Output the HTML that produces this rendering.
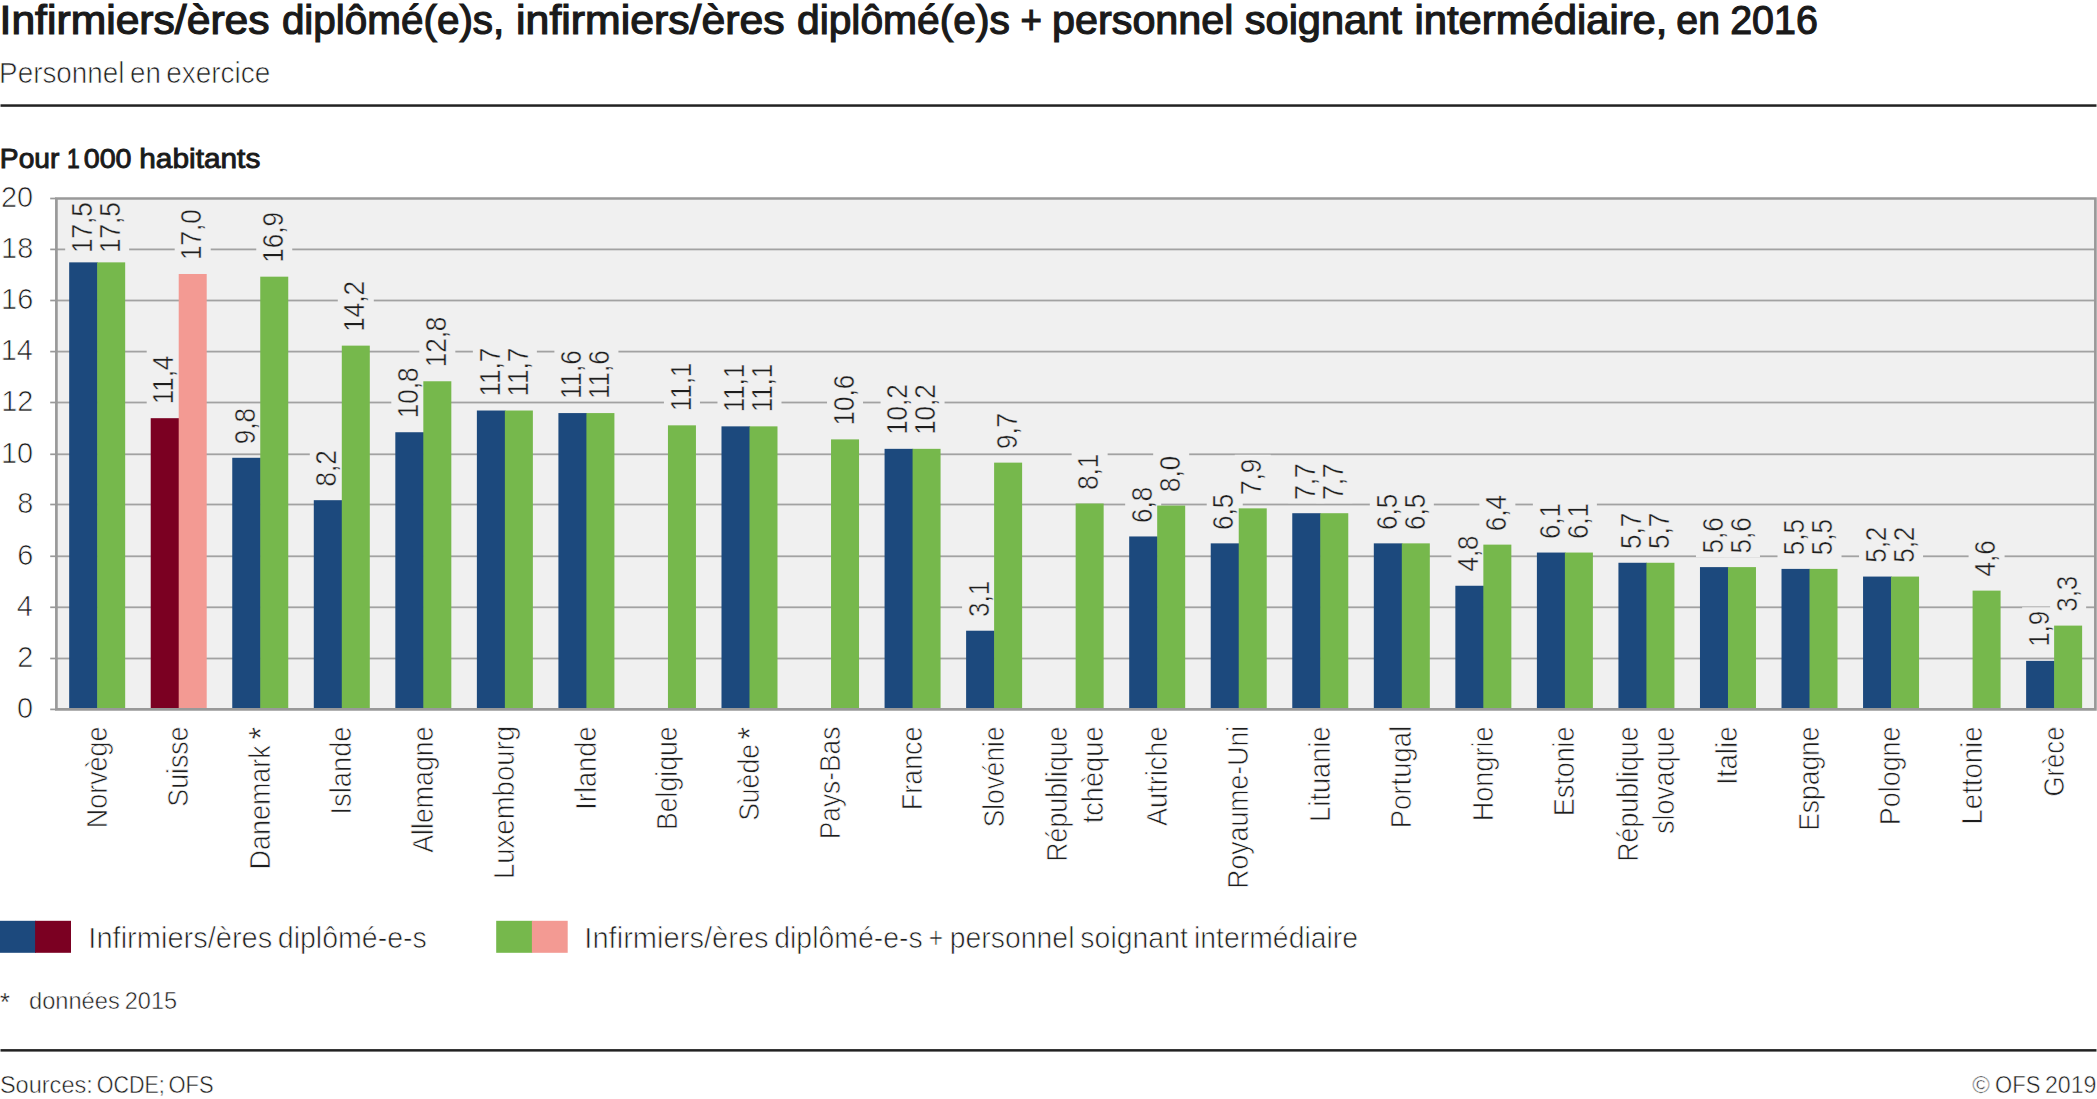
<!DOCTYPE html>
<html lang="fr">
<head>
<meta charset="utf-8">
<title>Infirmiers/ères diplômé(e)s, en 2016</title>
<style>
html,body{margin:0;padding:0;background:#fff;}
body{width:2097px;height:1099px;overflow:hidden;}
svg{display:block;font-family:'Liberation Sans', sans-serif;}
text{white-space:pre;}
</style>
</head>
<body>
<svg width="2097" height="1099" viewBox="0 0 2097 1099">
<rect width="2097" height="1099" fill="#ffffff"/>
<text x="-0.44" y="33.70" font-size="39.9" fill="#1a1a1a" textLength="270.08" lengthAdjust="spacingAndGlyphs" stroke="#1a1a1a" stroke-width="1.2">Infirmiers/ères</text>
<text x="281.90" y="33.70" font-size="39.9" fill="#1a1a1a" textLength="222.43" lengthAdjust="spacingAndGlyphs" stroke="#1a1a1a" stroke-width="1.2">diplômé(e)s,</text>
<text x="516.14" y="33.70" font-size="39.9" fill="#1a1a1a" textLength="268.51" lengthAdjust="spacingAndGlyphs" stroke="#1a1a1a" stroke-width="1.2">infirmiers/ères</text>
<text x="796.99" y="33.70" font-size="39.9" fill="#1a1a1a" textLength="212.88" lengthAdjust="spacingAndGlyphs" stroke="#1a1a1a" stroke-width="1.2">diplômé(e)s</text>
<text x="1020.51" y="33.70" font-size="39.9" fill="#1a1a1a" textLength="21.40" lengthAdjust="spacingAndGlyphs" stroke="#1a1a1a" stroke-width="1.2">+</text>
<text x="1052.04" y="33.70" font-size="39.9" fill="#1a1a1a" textLength="181.43" lengthAdjust="spacingAndGlyphs" stroke="#1a1a1a" stroke-width="1.2">personnel</text>
<text x="1244.74" y="33.70" font-size="39.9" fill="#1a1a1a" textLength="157.16" lengthAdjust="spacingAndGlyphs" stroke="#1a1a1a" stroke-width="1.2">soignant</text>
<text x="1414.41" y="33.70" font-size="39.9" fill="#1a1a1a" textLength="253.05" lengthAdjust="spacingAndGlyphs" stroke="#1a1a1a" stroke-width="1.2">intermédiaire,</text>
<text x="1676.33" y="33.70" font-size="39.9" fill="#1a1a1a" textLength="43.61" lengthAdjust="spacingAndGlyphs" stroke="#1a1a1a" stroke-width="1.2">en</text>
<text x="1730.22" y="33.70" font-size="39.9" fill="#1a1a1a" textLength="87.61" lengthAdjust="spacingAndGlyphs" stroke="#1a1a1a" stroke-width="1.2">2016</text>
<text x="-0.94" y="82.50" font-size="29.2" fill="#1e1e1e" textLength="125.45" lengthAdjust="spacingAndGlyphs" stroke="#ffffff" stroke-width="0.7">Personnel</text>
<text x="130.07" y="82.50" font-size="29.2" fill="#1e1e1e" textLength="30.88" lengthAdjust="spacingAndGlyphs" stroke="#ffffff" stroke-width="0.7">en</text>
<text x="166.16" y="82.50" font-size="29.2" fill="#1e1e1e" textLength="104.13" lengthAdjust="spacingAndGlyphs" stroke="#ffffff" stroke-width="0.7">exercice</text>
<rect x="0.5" y="104.3" width="2096" height="2.5" fill="#222"/>
<text x="-0.16" y="167.90" font-size="27.3" fill="#1a1a1a" textLength="59.58" lengthAdjust="spacingAndGlyphs" stroke="#1a1a1a" stroke-width="0.9">Pour</text>
<text x="83.73" y="167.90" font-size="27.3" fill="#1a1a1a" textLength="47.84" lengthAdjust="spacingAndGlyphs" stroke="#1a1a1a" stroke-width="0.9">000</text>
<text x="139.28" y="167.90" font-size="27.3" fill="#1a1a1a" textLength="121.05" lengthAdjust="spacingAndGlyphs" stroke="#1a1a1a" stroke-width="0.9">habitants</text>
<text x="66.90" y="167.90" font-size="27.3" fill="#1a1a1a" textLength="12.75" lengthAdjust="spacingAndGlyphs" stroke="#1a1a1a" stroke-width="0.9">1</text>
<rect x="56.40" y="198.50" width="2039.00" height="510.90" fill="#f0f0f0"/>
<rect x="56.40" y="657.60" width="2039.00" height="1.8" fill="#a2a2a2"/>
<rect x="56.40" y="606.40" width="2039.00" height="1.8" fill="#a2a2a2"/>
<rect x="56.40" y="555.40" width="2039.00" height="1.8" fill="#a2a2a2"/>
<rect x="56.40" y="503.60" width="2039.00" height="1.8" fill="#a2a2a2"/>
<rect x="56.40" y="453.40" width="2039.00" height="1.8" fill="#a2a2a2"/>
<rect x="56.40" y="401.60" width="2039.00" height="1.8" fill="#a2a2a2"/>
<rect x="56.40" y="350.70" width="2039.00" height="1.8" fill="#a2a2a2"/>
<rect x="56.40" y="299.60" width="2039.00" height="1.8" fill="#a2a2a2"/>
<rect x="56.40" y="248.50" width="2039.00" height="1.8" fill="#a2a2a2"/>
<rect x="65.17" y="198.00" width="36.00" height="56.50" fill="#f0f0f0"/>
<rect x="93.17" y="198.00" width="36.00" height="56.50" fill="#f0f0f0"/>
<rect x="146.71" y="349.19" width="36.00" height="56.50" fill="#f0f0f0"/>
<rect x="174.71" y="204.99" width="36.00" height="56.50" fill="#f0f0f0"/>
<rect x="228.25" y="404.18" width="36.00" height="43.60" fill="#f0f0f0"/>
<rect x="256.25" y="207.67" width="36.00" height="56.50" fill="#f0f0f0"/>
<rect x="309.79" y="446.59" width="36.00" height="43.60" fill="#f0f0f0"/>
<rect x="337.79" y="276.64" width="36.00" height="56.50" fill="#f0f0f0"/>
<rect x="391.33" y="363.24" width="36.00" height="56.50" fill="#f0f0f0"/>
<rect x="419.33" y="312.27" width="36.00" height="56.50" fill="#f0f0f0"/>
<rect x="472.87" y="341.52" width="36.00" height="56.50" fill="#f0f0f0"/>
<rect x="500.87" y="341.52" width="36.00" height="56.50" fill="#f0f0f0"/>
<rect x="554.41" y="344.08" width="36.00" height="56.50" fill="#f0f0f0"/>
<rect x="582.41" y="344.08" width="36.00" height="56.50" fill="#f0f0f0"/>
<rect x="663.95" y="356.34" width="36.00" height="56.50" fill="#f0f0f0"/>
<rect x="717.49" y="357.36" width="36.00" height="56.50" fill="#f0f0f0"/>
<rect x="745.49" y="357.36" width="36.00" height="56.50" fill="#f0f0f0"/>
<rect x="827.03" y="370.39" width="36.00" height="56.50" fill="#f0f0f0"/>
<rect x="880.57" y="379.84" width="36.00" height="56.50" fill="#f0f0f0"/>
<rect x="908.57" y="379.84" width="36.00" height="56.50" fill="#f0f0f0"/>
<rect x="962.11" y="577.12" width="36.00" height="43.60" fill="#f0f0f0"/>
<rect x="990.11" y="409.04" width="36.00" height="43.60" fill="#f0f0f0"/>
<rect x="1071.65" y="449.91" width="36.00" height="43.60" fill="#f0f0f0"/>
<rect x="1125.19" y="482.86" width="36.00" height="43.60" fill="#f0f0f0"/>
<rect x="1153.19" y="451.95" width="36.00" height="43.60" fill="#f0f0f0"/>
<rect x="1206.73" y="489.76" width="36.00" height="43.60" fill="#f0f0f0"/>
<rect x="1234.73" y="454.76" width="36.00" height="43.60" fill="#f0f0f0"/>
<rect x="1288.27" y="459.61" width="36.00" height="43.60" fill="#f0f0f0"/>
<rect x="1316.27" y="459.61" width="36.00" height="43.60" fill="#f0f0f0"/>
<rect x="1369.81" y="489.76" width="36.00" height="43.60" fill="#f0f0f0"/>
<rect x="1397.81" y="489.76" width="36.00" height="43.60" fill="#f0f0f0"/>
<rect x="1451.35" y="532.16" width="36.00" height="43.60" fill="#f0f0f0"/>
<rect x="1479.35" y="491.03" width="36.00" height="43.60" fill="#f0f0f0"/>
<rect x="1532.89" y="498.95" width="36.00" height="43.60" fill="#f0f0f0"/>
<rect x="1560.89" y="498.95" width="36.00" height="43.60" fill="#f0f0f0"/>
<rect x="1614.43" y="509.17" width="36.00" height="43.60" fill="#f0f0f0"/>
<rect x="1642.43" y="509.17" width="36.00" height="43.60" fill="#f0f0f0"/>
<rect x="1695.97" y="513.51" width="36.00" height="43.60" fill="#f0f0f0"/>
<rect x="1723.97" y="513.51" width="36.00" height="43.60" fill="#f0f0f0"/>
<rect x="1777.51" y="515.30" width="36.00" height="43.60" fill="#f0f0f0"/>
<rect x="1805.51" y="515.30" width="36.00" height="43.60" fill="#f0f0f0"/>
<rect x="1859.05" y="522.97" width="36.00" height="43.60" fill="#f0f0f0"/>
<rect x="1887.05" y="522.97" width="36.00" height="43.60" fill="#f0f0f0"/>
<rect x="1968.59" y="537.02" width="36.00" height="43.60" fill="#f0f0f0"/>
<rect x="2022.13" y="607.26" width="36.00" height="43.60" fill="#f0f0f0"/>
<rect x="2050.13" y="572.01" width="36.00" height="43.60" fill="#f0f0f0"/>
<rect x="69.17" y="262.36" width="28.60" height="447.04" fill="#1c497d"/>
<rect x="97.17" y="262.36" width="28.00" height="447.04" fill="#76b84c"/>
<rect x="150.71" y="418.19" width="28.60" height="291.21" fill="#7b0022"/>
<rect x="178.71" y="273.99" width="28.00" height="435.41" fill="#f39a93"/>
<rect x="232.25" y="457.78" width="28.60" height="251.62" fill="#1c497d"/>
<rect x="260.25" y="276.67" width="28.00" height="432.73" fill="#76b84c"/>
<rect x="313.79" y="500.19" width="28.60" height="209.21" fill="#1c497d"/>
<rect x="341.79" y="345.64" width="28.00" height="363.76" fill="#76b84c"/>
<rect x="395.33" y="432.24" width="28.60" height="277.16" fill="#1c497d"/>
<rect x="423.33" y="381.27" width="28.00" height="328.13" fill="#76b84c"/>
<rect x="476.87" y="410.52" width="28.60" height="298.88" fill="#1c497d"/>
<rect x="504.87" y="410.52" width="28.00" height="298.88" fill="#76b84c"/>
<rect x="558.41" y="413.08" width="28.60" height="296.32" fill="#1c497d"/>
<rect x="586.41" y="413.08" width="28.00" height="296.32" fill="#76b84c"/>
<rect x="667.95" y="425.34" width="28.00" height="284.06" fill="#76b84c"/>
<rect x="721.49" y="426.36" width="28.60" height="283.04" fill="#1c497d"/>
<rect x="749.49" y="426.36" width="28.00" height="283.04" fill="#76b84c"/>
<rect x="831.03" y="439.39" width="28.00" height="270.01" fill="#76b84c"/>
<rect x="884.57" y="448.84" width="28.60" height="260.56" fill="#1c497d"/>
<rect x="912.57" y="448.84" width="28.00" height="260.56" fill="#76b84c"/>
<rect x="966.11" y="630.72" width="28.60" height="78.68" fill="#1c497d"/>
<rect x="994.11" y="462.64" width="28.00" height="246.76" fill="#76b84c"/>
<rect x="1075.65" y="503.51" width="28.00" height="205.89" fill="#76b84c"/>
<rect x="1129.19" y="536.46" width="28.60" height="172.94" fill="#1c497d"/>
<rect x="1157.19" y="505.55" width="28.00" height="203.85" fill="#76b84c"/>
<rect x="1210.73" y="543.36" width="28.60" height="166.04" fill="#1c497d"/>
<rect x="1238.73" y="508.36" width="28.00" height="201.04" fill="#76b84c"/>
<rect x="1292.27" y="513.21" width="28.60" height="196.19" fill="#1c497d"/>
<rect x="1320.27" y="513.21" width="28.00" height="196.19" fill="#76b84c"/>
<rect x="1373.81" y="543.36" width="28.60" height="166.04" fill="#1c497d"/>
<rect x="1401.81" y="543.36" width="28.00" height="166.04" fill="#76b84c"/>
<rect x="1455.35" y="585.76" width="28.60" height="123.64" fill="#1c497d"/>
<rect x="1483.35" y="544.63" width="28.00" height="164.77" fill="#76b84c"/>
<rect x="1536.89" y="552.55" width="28.60" height="156.85" fill="#1c497d"/>
<rect x="1564.89" y="552.55" width="28.00" height="156.85" fill="#76b84c"/>
<rect x="1618.43" y="562.77" width="28.60" height="146.63" fill="#1c497d"/>
<rect x="1646.43" y="562.77" width="28.00" height="146.63" fill="#76b84c"/>
<rect x="1699.97" y="567.11" width="28.60" height="142.29" fill="#1c497d"/>
<rect x="1727.97" y="567.11" width="28.00" height="142.29" fill="#76b84c"/>
<rect x="1781.51" y="568.90" width="28.60" height="140.50" fill="#1c497d"/>
<rect x="1809.51" y="568.90" width="28.00" height="140.50" fill="#76b84c"/>
<rect x="1863.05" y="576.57" width="28.60" height="132.83" fill="#1c497d"/>
<rect x="1891.05" y="576.57" width="28.00" height="132.83" fill="#76b84c"/>
<rect x="1972.59" y="590.62" width="28.00" height="118.78" fill="#76b84c"/>
<rect x="2026.13" y="660.86" width="28.60" height="48.54" fill="#1c497d"/>
<rect x="2054.13" y="625.61" width="28.00" height="83.79" fill="#76b84c"/>
<path d="M56.40 709.40V198.50H2095.40V709.40Z" fill="none" stroke="#999999" stroke-width="2.7" stroke-linejoin="miter"/>
<rect x="50.2" y="708.55" width="6.20" height="1.7" fill="#999999"/>
<text x="17.01" y="718.10" font-size="29.2" fill="#1e1e1e" textLength="16.07" lengthAdjust="spacingAndGlyphs" stroke="#ffffff" stroke-width="0.7">0</text>
<rect x="50.2" y="657.65" width="6.20" height="1.7" fill="#999999"/>
<text x="17.33" y="667.20" font-size="29.2" fill="#1e1e1e" textLength="16.07" lengthAdjust="spacingAndGlyphs" stroke="#ffffff" stroke-width="0.7">2</text>
<rect x="50.2" y="606.45" width="6.20" height="1.7" fill="#999999"/>
<text x="16.73" y="616.00" font-size="29.2" fill="#1e1e1e" textLength="16.07" lengthAdjust="spacingAndGlyphs" stroke="#ffffff" stroke-width="0.7">4</text>
<rect x="50.2" y="555.45" width="6.20" height="1.7" fill="#999999"/>
<text x="17.15" y="565.00" font-size="29.2" fill="#1e1e1e" textLength="16.07" lengthAdjust="spacingAndGlyphs" stroke="#ffffff" stroke-width="0.7">6</text>
<rect x="50.2" y="503.65" width="6.20" height="1.7" fill="#999999"/>
<text x="17.14" y="513.20" font-size="29.2" fill="#1e1e1e" textLength="16.07" lengthAdjust="spacingAndGlyphs" stroke="#ffffff" stroke-width="0.7">8</text>
<rect x="50.2" y="453.45" width="6.20" height="1.7" fill="#999999"/>
<text x="0.94" y="463.00" font-size="29.2" fill="#1e1e1e" textLength="32.14" lengthAdjust="spacingAndGlyphs" stroke="#ffffff" stroke-width="0.7">10</text>
<rect x="50.2" y="401.65" width="6.20" height="1.7" fill="#999999"/>
<text x="1.26" y="411.20" font-size="29.2" fill="#1e1e1e" textLength="32.14" lengthAdjust="spacingAndGlyphs" stroke="#ffffff" stroke-width="0.7">12</text>
<rect x="50.2" y="350.75" width="6.20" height="1.7" fill="#999999"/>
<text x="0.66" y="360.30" font-size="29.2" fill="#1e1e1e" textLength="32.14" lengthAdjust="spacingAndGlyphs" stroke="#ffffff" stroke-width="0.7">14</text>
<rect x="50.2" y="299.65" width="6.20" height="1.7" fill="#999999"/>
<text x="1.08" y="309.20" font-size="29.2" fill="#1e1e1e" textLength="32.14" lengthAdjust="spacingAndGlyphs" stroke="#ffffff" stroke-width="0.7">16</text>
<rect x="50.2" y="248.55" width="6.20" height="1.7" fill="#999999"/>
<text x="1.07" y="258.10" font-size="29.2" fill="#1e1e1e" textLength="32.14" lengthAdjust="spacingAndGlyphs" stroke="#ffffff" stroke-width="0.7">18</text>
<rect x="50.2" y="197.65" width="6.20" height="1.7" fill="#999999"/>
<text x="0.94" y="207.20" font-size="29.2" fill="#1e1e1e" textLength="32.14" lengthAdjust="spacingAndGlyphs" stroke="#ffffff" stroke-width="0.7">20</text>
<text transform="translate(91.87,253.01) rotate(-90)" font-size="28.9" fill="#1e1e1e" textLength="50.61" lengthAdjust="spacingAndGlyphs" stroke="#f0f0f0" stroke-width="0.45">17,5</text>
<text transform="translate(119.87,253.01) rotate(-90)" font-size="28.9" fill="#1e1e1e" textLength="50.61" lengthAdjust="spacingAndGlyphs" stroke="#f0f0f0" stroke-width="0.45">17,5</text>
<text transform="translate(173.41,404.19) rotate(-90)" font-size="28.9" fill="#1e1e1e" textLength="48.68" lengthAdjust="spacingAndGlyphs" stroke="#f0f0f0" stroke-width="0.45">11,4</text>
<text transform="translate(201.41,259.99) rotate(-90)" font-size="28.9" fill="#1e1e1e" textLength="50.61" lengthAdjust="spacingAndGlyphs" stroke="#f0f0f0" stroke-width="0.45">17,0</text>
<text transform="translate(254.95,444.23) rotate(-90)" font-size="28.9" fill="#1e1e1e" textLength="36.15" lengthAdjust="spacingAndGlyphs" stroke="#f0f0f0" stroke-width="0.45">9,8</text>
<text transform="translate(282.95,262.67) rotate(-90)" font-size="28.9" fill="#1e1e1e" textLength="50.61" lengthAdjust="spacingAndGlyphs" stroke="#f0f0f0" stroke-width="0.45">16,9</text>
<text transform="translate(336.49,486.54) rotate(-90)" font-size="28.9" fill="#1e1e1e" textLength="36.15" lengthAdjust="spacingAndGlyphs" stroke="#f0f0f0" stroke-width="0.45">8,2</text>
<text transform="translate(364.49,331.65) rotate(-90)" font-size="28.9" fill="#1e1e1e" textLength="50.61" lengthAdjust="spacingAndGlyphs" stroke="#f0f0f0" stroke-width="0.45">14,2</text>
<text transform="translate(418.03,418.24) rotate(-90)" font-size="28.9" fill="#1e1e1e" textLength="50.61" lengthAdjust="spacingAndGlyphs" stroke="#f0f0f0" stroke-width="0.45">10,8</text>
<text transform="translate(446.03,367.28) rotate(-90)" font-size="28.9" fill="#1e1e1e" textLength="50.61" lengthAdjust="spacingAndGlyphs" stroke="#f0f0f0" stroke-width="0.45">12,8</text>
<text transform="translate(499.57,396.53) rotate(-90)" font-size="28.9" fill="#1e1e1e" textLength="48.68" lengthAdjust="spacingAndGlyphs" stroke="#f0f0f0" stroke-width="0.45">11,7</text>
<text transform="translate(527.57,396.53) rotate(-90)" font-size="28.9" fill="#1e1e1e" textLength="48.68" lengthAdjust="spacingAndGlyphs" stroke="#f0f0f0" stroke-width="0.45">11,7</text>
<text transform="translate(581.11,399.08) rotate(-90)" font-size="28.9" fill="#1e1e1e" textLength="48.68" lengthAdjust="spacingAndGlyphs" stroke="#f0f0f0" stroke-width="0.45">11,6</text>
<text transform="translate(609.11,399.08) rotate(-90)" font-size="28.9" fill="#1e1e1e" textLength="48.68" lengthAdjust="spacingAndGlyphs" stroke="#f0f0f0" stroke-width="0.45">11,6</text>
<text transform="translate(690.65,411.35) rotate(-90)" font-size="28.9" fill="#1e1e1e" textLength="48.68" lengthAdjust="spacingAndGlyphs" stroke="#f0f0f0" stroke-width="0.45">11,1</text>
<text transform="translate(744.19,412.37) rotate(-90)" font-size="28.9" fill="#1e1e1e" textLength="48.68" lengthAdjust="spacingAndGlyphs" stroke="#f0f0f0" stroke-width="0.45">11,1</text>
<text transform="translate(772.19,412.37) rotate(-90)" font-size="28.9" fill="#1e1e1e" textLength="48.68" lengthAdjust="spacingAndGlyphs" stroke="#f0f0f0" stroke-width="0.45">11,1</text>
<text transform="translate(853.73,425.40) rotate(-90)" font-size="28.9" fill="#1e1e1e" textLength="50.61" lengthAdjust="spacingAndGlyphs" stroke="#f0f0f0" stroke-width="0.45">10,6</text>
<text transform="translate(907.27,434.85) rotate(-90)" font-size="28.9" fill="#1e1e1e" textLength="50.61" lengthAdjust="spacingAndGlyphs" stroke="#f0f0f0" stroke-width="0.45">10,2</text>
<text transform="translate(935.27,434.85) rotate(-90)" font-size="28.9" fill="#1e1e1e" textLength="50.61" lengthAdjust="spacingAndGlyphs" stroke="#f0f0f0" stroke-width="0.45">10,2</text>
<text transform="translate(988.81,616.94) rotate(-90)" font-size="28.9" fill="#1e1e1e" textLength="36.15" lengthAdjust="spacingAndGlyphs" stroke="#f0f0f0" stroke-width="0.45">3,1</text>
<text transform="translate(1016.81,449.08) rotate(-90)" font-size="28.9" fill="#1e1e1e" textLength="36.15" lengthAdjust="spacingAndGlyphs" stroke="#f0f0f0" stroke-width="0.45">9,7</text>
<text transform="translate(1098.35,489.86) rotate(-90)" font-size="28.9" fill="#1e1e1e" textLength="36.15" lengthAdjust="spacingAndGlyphs" stroke="#f0f0f0" stroke-width="0.45">8,1</text>
<text transform="translate(1151.89,523.01) rotate(-90)" font-size="28.9" fill="#1e1e1e" textLength="36.15" lengthAdjust="spacingAndGlyphs" stroke="#f0f0f0" stroke-width="0.45">6,8</text>
<text transform="translate(1179.89,491.91) rotate(-90)" font-size="28.9" fill="#1e1e1e" textLength="36.15" lengthAdjust="spacingAndGlyphs" stroke="#f0f0f0" stroke-width="0.45">8,0</text>
<text transform="translate(1233.43,529.90) rotate(-90)" font-size="28.9" fill="#1e1e1e" textLength="36.15" lengthAdjust="spacingAndGlyphs" stroke="#f0f0f0" stroke-width="0.45">6,5</text>
<text transform="translate(1261.43,494.92) rotate(-90)" font-size="28.9" fill="#1e1e1e" textLength="36.15" lengthAdjust="spacingAndGlyphs" stroke="#f0f0f0" stroke-width="0.45">7,9</text>
<text transform="translate(1314.97,499.77) rotate(-90)" font-size="28.9" fill="#1e1e1e" textLength="36.15" lengthAdjust="spacingAndGlyphs" stroke="#f0f0f0" stroke-width="0.45">7,7</text>
<text transform="translate(1342.97,499.77) rotate(-90)" font-size="28.9" fill="#1e1e1e" textLength="36.15" lengthAdjust="spacingAndGlyphs" stroke="#f0f0f0" stroke-width="0.45">7,7</text>
<text transform="translate(1396.51,529.90) rotate(-90)" font-size="28.9" fill="#1e1e1e" textLength="36.15" lengthAdjust="spacingAndGlyphs" stroke="#f0f0f0" stroke-width="0.45">6,5</text>
<text transform="translate(1424.51,529.90) rotate(-90)" font-size="28.9" fill="#1e1e1e" textLength="36.15" lengthAdjust="spacingAndGlyphs" stroke="#f0f0f0" stroke-width="0.45">6,5</text>
<text transform="translate(1478.05,571.58) rotate(-90)" font-size="28.9" fill="#1e1e1e" textLength="36.15" lengthAdjust="spacingAndGlyphs" stroke="#f0f0f0" stroke-width="0.45">4,8</text>
<text transform="translate(1506.05,531.18) rotate(-90)" font-size="28.9" fill="#1e1e1e" textLength="36.15" lengthAdjust="spacingAndGlyphs" stroke="#f0f0f0" stroke-width="0.45">6,4</text>
<text transform="translate(1559.59,539.10) rotate(-90)" font-size="28.9" fill="#1e1e1e" textLength="36.15" lengthAdjust="spacingAndGlyphs" stroke="#f0f0f0" stroke-width="0.45">6,1</text>
<text transform="translate(1587.59,539.10) rotate(-90)" font-size="28.9" fill="#1e1e1e" textLength="36.15" lengthAdjust="spacingAndGlyphs" stroke="#f0f0f0" stroke-width="0.45">6,1</text>
<text transform="translate(1641.13,549.04) rotate(-90)" font-size="28.9" fill="#1e1e1e" textLength="36.15" lengthAdjust="spacingAndGlyphs" stroke="#f0f0f0" stroke-width="0.45">5,7</text>
<text transform="translate(1669.13,549.04) rotate(-90)" font-size="28.9" fill="#1e1e1e" textLength="36.15" lengthAdjust="spacingAndGlyphs" stroke="#f0f0f0" stroke-width="0.45">5,7</text>
<text transform="translate(1722.67,553.38) rotate(-90)" font-size="28.9" fill="#1e1e1e" textLength="36.15" lengthAdjust="spacingAndGlyphs" stroke="#f0f0f0" stroke-width="0.45">5,6</text>
<text transform="translate(1750.67,553.38) rotate(-90)" font-size="28.9" fill="#1e1e1e" textLength="36.15" lengthAdjust="spacingAndGlyphs" stroke="#f0f0f0" stroke-width="0.45">5,6</text>
<text transform="translate(1804.21,555.17) rotate(-90)" font-size="28.9" fill="#1e1e1e" textLength="36.15" lengthAdjust="spacingAndGlyphs" stroke="#f0f0f0" stroke-width="0.45">5,5</text>
<text transform="translate(1832.21,555.17) rotate(-90)" font-size="28.9" fill="#1e1e1e" textLength="36.15" lengthAdjust="spacingAndGlyphs" stroke="#f0f0f0" stroke-width="0.45">5,5</text>
<text transform="translate(1885.75,562.83) rotate(-90)" font-size="28.9" fill="#1e1e1e" textLength="36.15" lengthAdjust="spacingAndGlyphs" stroke="#f0f0f0" stroke-width="0.45">5,2</text>
<text transform="translate(1913.75,562.83) rotate(-90)" font-size="28.9" fill="#1e1e1e" textLength="36.15" lengthAdjust="spacingAndGlyphs" stroke="#f0f0f0" stroke-width="0.45">5,2</text>
<text transform="translate(1995.29,576.44) rotate(-90)" font-size="28.9" fill="#1e1e1e" textLength="36.15" lengthAdjust="spacingAndGlyphs" stroke="#f0f0f0" stroke-width="0.45">4,6</text>
<text transform="translate(2048.83,646.87) rotate(-90)" font-size="28.9" fill="#1e1e1e" textLength="36.15" lengthAdjust="spacingAndGlyphs" stroke="#f0f0f0" stroke-width="0.45">1,9</text>
<text transform="translate(2076.83,611.83) rotate(-90)" font-size="28.9" fill="#1e1e1e" textLength="36.15" lengthAdjust="spacingAndGlyphs" stroke="#f0f0f0" stroke-width="0.45">3,3</text>
<text transform="translate(106.57,828.26) rotate(-90)" font-size="29.2" fill="#1e1e1e" textLength="101.81" lengthAdjust="spacingAndGlyphs" stroke="#ffffff" stroke-width="0.7">Norvège</text>
<text transform="translate(188.11,806.66) rotate(-90)" font-size="29.2" fill="#1e1e1e" textLength="80.20" lengthAdjust="spacingAndGlyphs" stroke="#ffffff" stroke-width="0.7">Suisse</text>
<text transform="translate(269.65,869.46) rotate(-90)" font-size="29.2" fill="#1e1e1e" textLength="124.17" lengthAdjust="spacingAndGlyphs" stroke="#ffffff" stroke-width="0.7">Danemark</text>
<text transform="translate(271.95,739.62) rotate(-90)" font-size="33.0" fill="#1e1e1e" textLength="12.52" lengthAdjust="spacingAndGlyphs" stroke="#ffffff" stroke-width="0.4">*</text>
<text transform="translate(351.19,814.47) rotate(-90)" font-size="29.2" fill="#1e1e1e" textLength="88.03" lengthAdjust="spacingAndGlyphs" stroke="#ffffff" stroke-width="0.7">Islande</text>
<text transform="translate(432.73,852.70) rotate(-90)" font-size="29.2" fill="#1e1e1e" textLength="126.24" lengthAdjust="spacingAndGlyphs" stroke="#ffffff" stroke-width="0.7">Allemagne</text>
<text transform="translate(514.27,879.11) rotate(-90)" font-size="29.2" fill="#1e1e1e" textLength="153.24" lengthAdjust="spacingAndGlyphs" stroke="#ffffff" stroke-width="0.7">Luxembourg</text>
<text transform="translate(595.81,809.77) rotate(-90)" font-size="29.2" fill="#1e1e1e" textLength="83.33" lengthAdjust="spacingAndGlyphs" stroke="#ffffff" stroke-width="0.7">Irlande</text>
<text transform="translate(677.35,830.03) rotate(-90)" font-size="29.2" fill="#1e1e1e" textLength="103.57" lengthAdjust="spacingAndGlyphs" stroke="#ffffff" stroke-width="0.7">Belgique</text>
<text transform="translate(758.89,820.86) rotate(-90)" font-size="29.2" fill="#1e1e1e" textLength="76.79" lengthAdjust="spacingAndGlyphs" stroke="#ffffff" stroke-width="0.7">Suède</text>
<text transform="translate(761.19,739.62) rotate(-90)" font-size="33.0" fill="#1e1e1e" textLength="12.52" lengthAdjust="spacingAndGlyphs" stroke="#ffffff" stroke-width="0.4">*</text>
<text transform="translate(840.43,839.31) rotate(-90)" font-size="29.2" fill="#1e1e1e" textLength="112.61" lengthAdjust="spacingAndGlyphs" stroke="#ffffff" stroke-width="0.7">Pays-Bas</text>
<text transform="translate(921.97,810.26) rotate(-90)" font-size="29.2" fill="#1e1e1e" textLength="83.81" lengthAdjust="spacingAndGlyphs" stroke="#ffffff" stroke-width="0.7">France</text>
<text transform="translate(1003.51,827.24) rotate(-90)" font-size="29.2" fill="#1e1e1e" textLength="100.76" lengthAdjust="spacingAndGlyphs" stroke="#ffffff" stroke-width="0.7">Slovénie</text>
<text transform="translate(1067.05,861.74) rotate(-90)" font-size="29.2" fill="#1e1e1e" textLength="135.28" lengthAdjust="spacingAndGlyphs" stroke="#ffffff" stroke-width="0.7">République</text>
<text transform="translate(1103.25,823.36) rotate(-90)" font-size="29.2" fill="#1e1e1e" textLength="96.92" lengthAdjust="spacingAndGlyphs" stroke="#ffffff" stroke-width="0.7">tchèque</text>
<text transform="translate(1166.59,826.10) rotate(-90)" font-size="29.2" fill="#1e1e1e" textLength="99.66" lengthAdjust="spacingAndGlyphs" stroke="#ffffff" stroke-width="0.7">Autriche</text>
<text transform="translate(1248.13,888.84) rotate(-90)" font-size="29.2" fill="#1e1e1e" textLength="162.99" lengthAdjust="spacingAndGlyphs" stroke="#ffffff" stroke-width="0.7">Royaume-Uni</text>
<text transform="translate(1329.67,821.89) rotate(-90)" font-size="29.2" fill="#1e1e1e" textLength="95.45" lengthAdjust="spacingAndGlyphs" stroke="#ffffff" stroke-width="0.7">Lituanie</text>
<text transform="translate(1411.21,828.31) rotate(-90)" font-size="29.2" fill="#1e1e1e" textLength="102.50" lengthAdjust="spacingAndGlyphs" stroke="#ffffff" stroke-width="0.7">Portugal</text>
<text transform="translate(1492.75,821.37) rotate(-90)" font-size="29.2" fill="#1e1e1e" textLength="94.93" lengthAdjust="spacingAndGlyphs" stroke="#ffffff" stroke-width="0.7">Hongrie</text>
<text transform="translate(1574.29,816.16) rotate(-90)" font-size="29.2" fill="#1e1e1e" textLength="89.70" lengthAdjust="spacingAndGlyphs" stroke="#ffffff" stroke-width="0.7">Estonie</text>
<text transform="translate(1637.83,861.74) rotate(-90)" font-size="29.2" fill="#1e1e1e" textLength="135.28" lengthAdjust="spacingAndGlyphs" stroke="#ffffff" stroke-width="0.7">République</text>
<text transform="translate(1674.03,834.00) rotate(-90)" font-size="29.2" fill="#1e1e1e" textLength="107.54" lengthAdjust="spacingAndGlyphs" stroke="#ffffff" stroke-width="0.7">slovaque</text>
<text transform="translate(1737.37,784.91) rotate(-90)" font-size="29.2" fill="#1e1e1e" textLength="58.49" lengthAdjust="spacingAndGlyphs" stroke="#ffffff" stroke-width="0.7">Italie</text>
<text transform="translate(1818.91,830.82) rotate(-90)" font-size="29.2" fill="#1e1e1e" textLength="104.34" lengthAdjust="spacingAndGlyphs" stroke="#ffffff" stroke-width="0.7">Espagne</text>
<text transform="translate(1900.45,825.16) rotate(-90)" font-size="29.2" fill="#1e1e1e" textLength="98.70" lengthAdjust="spacingAndGlyphs" stroke="#ffffff" stroke-width="0.7">Pologne</text>
<text transform="translate(1981.99,824.51) rotate(-90)" font-size="29.2" fill="#1e1e1e" textLength="98.09" lengthAdjust="spacingAndGlyphs" stroke="#ffffff" stroke-width="0.7">Lettonie</text>
<text transform="translate(2063.53,796.44) rotate(-90)" font-size="29.2" fill="#1e1e1e" textLength="69.93" lengthAdjust="spacingAndGlyphs" stroke="#ffffff" stroke-width="0.7">Grèce</text>
<rect x="0" y="920.8" width="36" height="32" fill="#1c497d"/>
<rect x="35.1" y="920.8" width="35.9" height="32" fill="#7b0022"/>
<rect x="496.2" y="920.8" width="36.2" height="32" fill="#76b84c"/>
<rect x="531.9" y="920.8" width="35.8" height="32" fill="#f39a93"/>
<text x="88.37" y="947.60" font-size="29.2" fill="#1e1e1e" textLength="183.93" lengthAdjust="spacingAndGlyphs" stroke="#ffffff" stroke-width="0.7">Infirmiers/ères</text>
<text x="277.75" y="947.60" font-size="29.2" fill="#1e1e1e" textLength="149.13" lengthAdjust="spacingAndGlyphs" stroke="#ffffff" stroke-width="0.7">diplômé-e-s</text>
<text x="584.36" y="947.60" font-size="29.2" fill="#1e1e1e" textLength="184.24" lengthAdjust="spacingAndGlyphs" stroke="#ffffff" stroke-width="0.7">Infirmiers/ères</text>
<text x="774.26" y="947.60" font-size="29.2" fill="#1e1e1e" textLength="148.42" lengthAdjust="spacingAndGlyphs" stroke="#ffffff" stroke-width="0.7">diplômé-e-s</text>
<text x="928.75" y="947.60" font-size="29.2" fill="#1e1e1e" textLength="14.31" lengthAdjust="spacingAndGlyphs" stroke="#ffffff" stroke-width="0.7">+</text>
<text x="949.82" y="947.60" font-size="29.2" fill="#1e1e1e" textLength="124.63" lengthAdjust="spacingAndGlyphs" stroke="#ffffff" stroke-width="0.7">personnel</text>
<text x="1080.36" y="947.60" font-size="29.2" fill="#1e1e1e" textLength="107.50" lengthAdjust="spacingAndGlyphs" stroke="#ffffff" stroke-width="0.7">soignant</text>
<text x="1194.05" y="947.60" font-size="29.2" fill="#1e1e1e" textLength="163.96" lengthAdjust="spacingAndGlyphs" stroke="#ffffff" stroke-width="0.7">intermédiaire</text>
<text x="0.07" y="1010.60" font-size="25.5" fill="#1e1e1e" textLength="9.85" lengthAdjust="spacingAndGlyphs" stroke="#ffffff" stroke-width="0.25">*</text>
<text x="29.06" y="1008.50" font-size="24.0" fill="#1e1e1e" textLength="90.65" lengthAdjust="spacingAndGlyphs" stroke="#ffffff" stroke-width="0.5">données</text>
<text x="124.77" y="1008.50" font-size="24.0" fill="#1e1e1e" textLength="52.27" lengthAdjust="spacingAndGlyphs" stroke="#ffffff" stroke-width="0.5">2015</text>
<rect x="0.5" y="1049.1" width="2096" height="2.5" fill="#222"/>
<text x="-0.12" y="1092.50" font-size="24.0" fill="#1e1e1e" textLength="92.92" lengthAdjust="spacingAndGlyphs" stroke="#ffffff" stroke-width="0.5">Sources:</text>
<text x="96.73" y="1092.50" font-size="24.0" fill="#1e1e1e" textLength="68.05" lengthAdjust="spacingAndGlyphs" stroke="#ffffff" stroke-width="0.5">OCDE;</text>
<text x="168.41" y="1092.50" font-size="24.0" fill="#1e1e1e" textLength="45.15" lengthAdjust="spacingAndGlyphs" stroke="#ffffff" stroke-width="0.5">OFS</text>
<text x="1972.19" y="1092.50" font-size="24.0" fill="#1e1e1e" textLength="17.53" lengthAdjust="spacingAndGlyphs" stroke="#ffffff" stroke-width="0.5">©</text>
<text x="1995.10" y="1092.50" font-size="24.0" fill="#1e1e1e" textLength="45.36" lengthAdjust="spacingAndGlyphs" stroke="#ffffff" stroke-width="0.5">OFS</text>
<text x="2044.88" y="1092.50" font-size="24.0" fill="#1e1e1e" textLength="51.56" lengthAdjust="spacingAndGlyphs" stroke="#ffffff" stroke-width="0.5">2019</text>
</svg>
</body>
</html>
